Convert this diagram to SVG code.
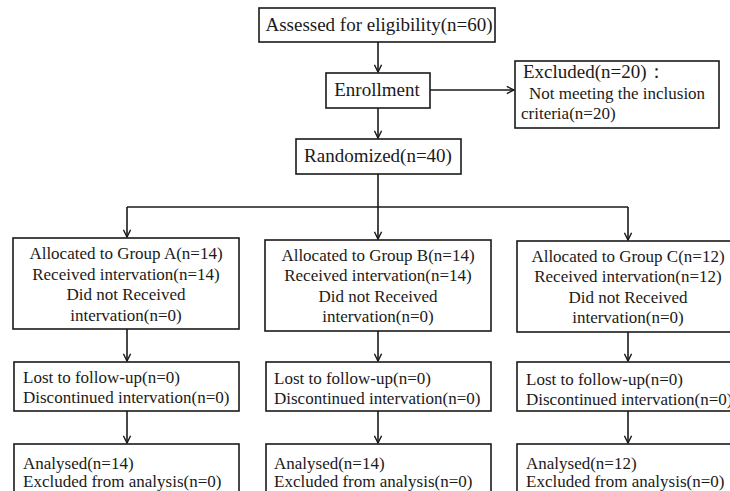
<svg xmlns="http://www.w3.org/2000/svg" width="730" height="491" viewBox="0 0 730 491">
<style>
.box{fill:#fff;stroke:#1a1a1a;stroke-width:1.6}
.t{font-family:"Liberation Serif","Times New Roman",serif;fill:#1a1a1a}
.big{font-size:19px}
.mid{font-size:17px}
.c{text-anchor:middle}
.conn{fill:none;stroke:#1a1a1a;stroke-width:1.6}
</style>
<defs>
<marker id="arr" viewBox="0 0 10 10" refX="9" refY="5" markerWidth="9" markerHeight="9" markerUnits="userSpaceOnUse" orient="auto">
<path d="M1,1 L9,5 L1,9" fill="none" stroke="#1a1a1a" stroke-width="1.6"/>
</marker>
</defs>
<rect width="730" height="491" fill="#fff"/>
<g id="connectors">
<path class="conn" d="M378,42 V72" marker-end="url(#arr)"/>
<path class="conn" d="M430,90 H514" marker-end="url(#arr)"/>
<path class="conn" d="M378,108 V138" marker-end="url(#arr)"/>
<path class="conn" d="M378,174 V207"/>
<path class="conn" d="M127,207 H628"/>
<path class="conn" d="M127,207 V237" marker-end="url(#arr)"/>
<path class="conn" d="M378,207 V239" marker-end="url(#arr)"/>
<path class="conn" d="M628,207 V240" marker-end="url(#arr)"/>
<path class="conn" d="M127,329 V361" marker-end="url(#arr)"/>
<path class="conn" d="M378,331 V361" marker-end="url(#arr)"/>
<path class="conn" d="M628,332 V361" marker-end="url(#arr)"/>
<path class="conn" d="M127,411 V443" marker-end="url(#arr)"/>
<path class="conn" d="M378,411 V443" marker-end="url(#arr)"/>
<path class="conn" d="M628,411 V443" marker-end="url(#arr)"/>
</g>
<g id="assessed">
<rect class="box" x="259" y="8" width="236" height="34"/>
<text class="t big c" x="379" y="31">Assessed for eligibility(n=60)</text>
</g>
<g id="enrollment">
<rect class="box" x="326" y="73" width="104" height="35"/>
<text class="t big c" x="377" y="96">Enrollment</text>
</g>
<g id="excluded">
<rect class="box" x="515" y="61" width="204" height="67"/>
<text class="t big" x="523" y="78">Excluded(n=20)：</text>
<text class="t mid" x="529" y="99">Not meeting the inclusion</text>
<text class="t mid" x="521" y="119">criteria(n=20)</text>
</g>
<g id="randomized">
<rect class="box" x="296" y="139" width="165" height="35"/>
<text class="t big c" x="378" y="162">Randomized(n=40)</text>
</g>
<g id="groupA">
<rect class="box" x="13" y="238" width="226" height="91"/>
<text class="t mid c" x="126" y="259">Allocated to Group A(n=14)</text>
<text class="t mid c" x="126" y="279.5">Received intervation(n=14)</text>
<text class="t mid c" x="126" y="300">Did not Received</text>
<text class="t mid c" x="126" y="320.5">intervation(n=0)</text>
</g>
<g id="groupB">
<rect class="box" x="265" y="240" width="226" height="91"/>
<text class="t mid c" x="378" y="260.5">Allocated to Group B(n=14)</text>
<text class="t mid c" x="378" y="281">Received intervation(n=14)</text>
<text class="t mid c" x="378" y="301.5">Did not Received</text>
<text class="t mid c" x="378" y="322">intervation(n=0)</text>
</g>
<g id="groupC">
<rect class="box" x="517" y="241" width="230" height="91"/>
<text class="t mid c" x="628" y="261.5">Allocated to Group C(n=12)</text>
<text class="t mid c" x="628" y="282">Received intervation(n=12)</text>
<text class="t mid c" x="628" y="302.5">Did not Received</text>
<text class="t mid c" x="628" y="323">intervation(n=0)</text>
</g>
<g id="lostA">
<rect class="box" x="14" y="362" width="225" height="49"/>
<text class="t mid" x="23" y="382.5">Lost to follow-up(n=0)</text>
<text class="t mid" x="23" y="403">Discontinued intervation(n=0)</text>
</g>
<g id="lostB">
<rect class="box" x="266" y="362" width="225" height="49"/>
<text class="t mid" x="274" y="383.5">Lost to follow-up(n=0)</text>
<text class="t mid" x="274" y="404">Discontinued intervation(n=0)</text>
</g>
<g id="lostC">
<rect class="box" x="517" y="362" width="230" height="49"/>
<text class="t mid" x="526" y="384.5">Lost to follow-up(n=0)</text>
<text class="t mid" x="526" y="405">Discontinued intervation(n=0)</text>
</g>
<g id="analysedA">
<rect class="box" x="14" y="444" width="225" height="60"/>
<text class="t mid" x="23" y="468.5">Analysed(n=14)</text>
<text class="t mid" x="23" y="487">Excluded from analysis(n=0)</text>
</g>
<g id="analysedB">
<rect class="box" x="266" y="444" width="225" height="60"/>
<text class="t mid" x="274" y="468.5">Analysed(n=14)</text>
<text class="t mid" x="274" y="487">Excluded from analysis(n=0)</text>
</g>
<g id="analysedC">
<rect class="box" x="517" y="444" width="230" height="60"/>
<text class="t mid" x="526" y="468.5">Analysed(n=12)</text>
<text class="t mid" x="526" y="487">Excluded from analysis(n=0)</text>
</g>
</svg>
